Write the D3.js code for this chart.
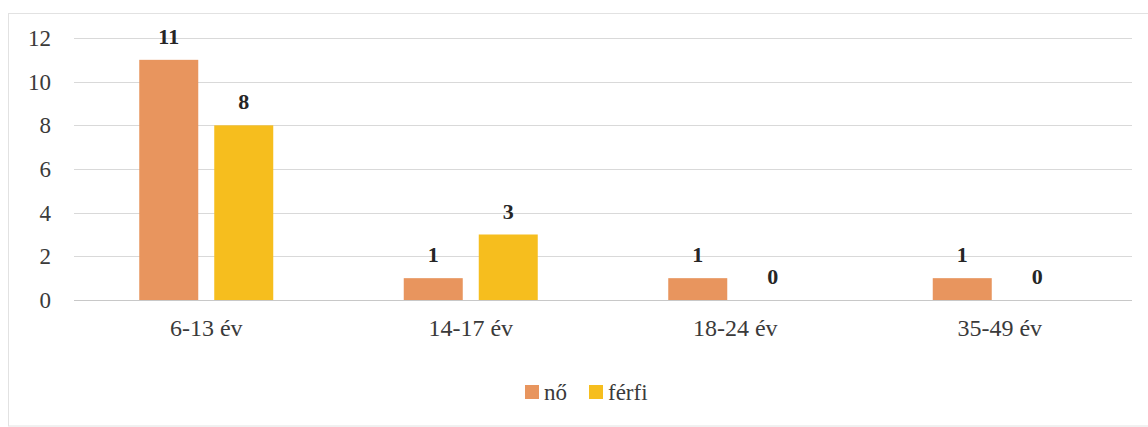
<!DOCTYPE html>
<html><head><meta charset="utf-8">
<script src="https://cdn.jsdelivr.net/npm/d3@7"></script>
<style>
html,body{margin:0;padding:0;background:#fff;}
svg{display:block;}
</style></head>
<body>
<svg id="chart" width="1148" height="427"></svg>
<script>
const categories = ["6-13 év", "14-17 év", "18-24 év", "35-49 év"];
const seriesNames = ["nő", "férfi"];
const noValues = [11, 1, 1, 1];
const ferfiValues = [8, 3, 0, 0];
const yTicks = [0, 2, 4, 6, 8, 10, 12];
const colors = ["#E8955E", "#F6BE1E"];

const FONT = "'Liberation Serif', 'Times New Roman', 'DejaVu Serif', serif";
const values = [noValues, ferfiValues];
const svg = d3.select("#chart").attr("font-family", FONT);

// outer frame
svg.append("rect").attr("x", 8.5).attr("y", 13.5).attr("width", 1150).attr("height", 412.5)
  .attr("fill", "none").attr("stroke", "#e2e2e2").attr("stroke-width", 1);

const x0 = d3.scaleBand().domain(categories).range([74, 1132]).paddingInner(0).paddingOuter(0);
const grpW = 134;
const x1 = d3.scaleBand().domain(seriesNames)
  .range([(x0.bandwidth() - grpW) / 2, (x0.bandwidth() + grpW) / 2])
  .paddingInner(0.2133).paddingOuter(0);
const y = d3.scaleLinear().domain([0, 12]).range([300, 38]);

// gridlines
svg.append("g").selectAll("line").data(yTicks).join("line")
  .attr("x1", 74).attr("x2", 1132)
  .attr("y1", d => Math.round(y(d)) + 0.5).attr("y2", d => Math.round(y(d)) + 0.5)
  .attr("stroke", d => d === 0 ? "#c8c8c8" : "#d9d9d9").attr("stroke-width", 1);

// y tick labels
svg.append("g").selectAll("text").data(yTicks).join("text")
  .attr("x", 51).attr("y", d => y(d)).attr("dy", "0.35em")
  .attr("text-anchor", "end").attr("font-family", FONT).attr("font-size", 23)
  .attr("fill", "#3a3a3a").text(d => d);

// bars
const groups = svg.append("g").selectAll("g").data(categories).join("g")
  .attr("transform", d => `translate(${x0(d)},0)`);

groups.each(function(cat, ci) {
  const g = d3.select(this);
  seriesNames.forEach((s, si) => {
    const v = values[si][ci];
    g.append("rect")
      .attr("x", x1(s)).attr("width", x1.bandwidth())
      .attr("y", y(v)).attr("height", y(0) - y(v))
      .attr("fill", colors[si]);
    g.append("text")
      .attr("x", x1(s) + x1.bandwidth() / 2).attr("y", y(v) - 16)
      .attr("text-anchor", "middle").attr("font-family", FONT).attr("font-size", 22)
      .attr("font-weight", "bold").attr("fill", "#262626")
      .text(v);
  });
});

// category labels
svg.append("g").selectAll("text").data(categories).join("text")
  .attr("x", d => x0(d) + x0.bandwidth() / 2).attr("y", 336)
  .attr("text-anchor", "middle").attr("font-family", FONT).attr("font-size", 24)
  .attr("fill", "#3a3a3a").text(d => d);

// legend
const legendItems = [{name: "nő", x: 525}, {name: "férfi", x: 589}];
const lg = svg.append("g").selectAll("g").data(legendItems).join("g")
  .attr("transform", d => `translate(${d.x},385)`);
lg.append("rect").attr("width", 14).attr("height", 14).attr("fill", (d, i) => colors[i]);
lg.append("text").attr("x", 19).attr("y", 7).attr("dy", "0.35em")
  .attr("font-family", FONT).attr("font-size", 23).attr("fill", "#3a3a3a").text(d => d.name);
</script>
</body></html>
